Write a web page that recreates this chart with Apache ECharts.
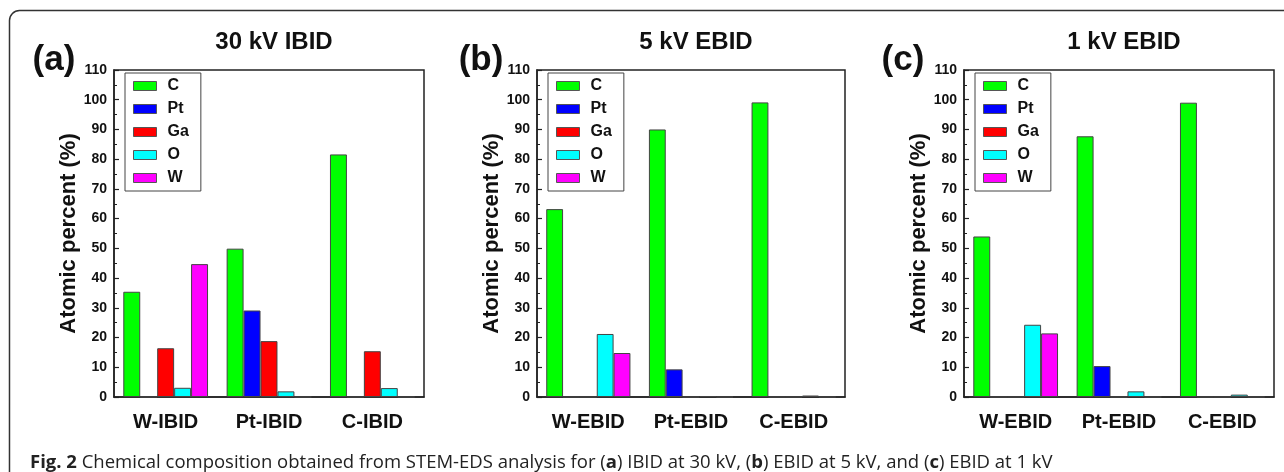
<!DOCTYPE html>
<html>
<head>
<meta charset="utf-8">
<script src="https://cdn.jsdelivr.net/npm/echarts@6/dist/echarts.min.js"></script>
<style>
html,body{margin:0;padding:0;background:#fff;}
#main{width:1284px;height:472px;}
</style>
</head>
<body>
<div id="main"></div>
<script>
// elements shown in every panel
var elements = ['C', 'Pt', 'Ga', 'O', 'W'];
var colors = ['#00ff00', '#0000ff', '#ff0000', '#00ffff', '#ff00ff'];

// panel (a) 30 kV IBID
var catsA = ['W-IBID', 'Pt-IBID', 'C-IBID'];
var cA  = [35.4, 49.9, 81.6];
var ptA = [0, 29.1, 0];
var gaA = [16.4, 18.8, 15.4];
var oA  = [3.1, 1.9, 3.0];
var wA  = [44.7, 0, 0];

// panel (b) 5 kV EBID
var catsB = ['W-EBID', 'Pt-EBID', 'C-EBID'];
var cB  = [63.2, 90.0, 99.1];
var ptB = [0, 9.3, 0];
var gaB = [0, 0, 0];
var oB  = [21.2, 0.3, 0.5];
var wB  = [14.8, 0, 0];

// panel (c) 1 kV EBID
var catsC = ['W-EBID', 'Pt-EBID', 'C-EBID'];
var cC  = [54.0, 87.7, 99.0];
var ptC = [0, 10.4, 0];
var gaC = [0, 0, 0];
var oC  = [24.3, 1.9, 0.8];
var wC  = [21.4, 0, 0];

var yTicks = [0, 10, 20, 30, 40, 50, 60, 70, 80, 90, 100, 110];

var panels = [
    {tag: '(a)', title: '30 kV IBID', cats: catsA, data: [cA, ptA, gaA, oA, wA],
     left: 114, width: 310, tagX: 49, nameGap: 33},
    {tag: '(b)', title: '5 kV EBID', cats: catsB, data: [cB, ptB, gaB, oB, wB],
     left: 537, width: 308, tagX: 476, nameGap: 28},
    {tag: '(c)', title: '1 kV EBID', cats: catsC, data: [cC, ptC, gaC, oC, wC],
     left: 964, width: 310, tagX: 898, nameGap: 28}
];

var grids = [], xAxes = [], yAxes = [], series = [], legends = [], titles = [];
var bold = 'bold';
var fam = 'Liberation Sans, Arial, sans-serif';

panels.forEach(function(p, k){
    grids.push({
        left: p.left, width: p.width, top: 70, height: 327,
        show: true, borderColor: '#222', borderWidth: 1.5, backgroundColor: 'transparent'
    });
    xAxes.push({
        type: 'category', gridIndex: k, data: p.cats,
        axisLine: {lineStyle: {color: '#222', width: 1.5}},
        axisTick: {alignWithLabel: true, length: 5, lineStyle: {color: '#222', width: 1.5}},
        axisLabel: {color: '#111', fontWeight: bold, fontSize: 20, fontFamily: fam, margin: 15}
    });
    yAxes.push({
        type: 'value', gridIndex: k, min: 0, max: 110, interval: 10,
        name: 'Atomic percent (%)', nameLocation: 'middle', nameGap: p.nameGap,
        nameTextStyle: {color: '#111', fontWeight: bold, fontSize: 22, fontFamily: fam},
        axisLine: {show: true, lineStyle: {color: '#222', width: 1.5}},
        axisTick: {show: true, inside: true, length: 5, lineStyle: {color: '#222', width: 1.2}},
        minorTick: {show: true, splitNumber: 2, length: 3, lineStyle: {color: '#222', width: 1}},
        splitLine: {show: false},
        axisLabel: {color: '#111', fontWeight: bold, fontSize: 14, fontFamily: fam, margin: 7,
            formatter: function(v){ return yTicks.indexOf(v) >= 0 ? String(v) : ''; }}
    });
    elements.forEach(function(el, i){
        series.push({
            name: el, type: 'bar', xAxisIndex: k, yAxisIndex: k,
            data: p.data[i], barGap: '0%', barCategoryGap: '18%',
            itemStyle: {color: colors[i], borderColor: '#444', borderWidth: 1},
            animation: false
        });
    });
    legends.push({
        data: elements, orient: 'vertical', left: p.left + 11, top: 73,
        icon: 'rect',
        itemWidth: 23, itemHeight: 9, itemGap: 7,
        padding: [5, 12, 5, 8],
        borderColor: '#444', borderWidth: 1,
        selectedMode: false,
        itemStyle: {borderColor: '#555', borderWidth: 1},
        textStyle: {color: '#111', fontWeight: bold, fontSize: 16, fontFamily: fam, padding: [0, 0, 0, 6]}
    });
    titles.push({
        text: p.title, left: p.left + p.width / 2, top: 25, textAlign: 'center',
        textStyle: {color: '#111', fontWeight: bold, fontSize: 24, fontFamily: fam}
    });
    titles.push({
        text: p.tag, left: p.tagX, top: 38, textAlign: 'center',
        textStyle: {color: '#111', fontWeight: bold, fontSize: 35, fontFamily: fam}
    });
});

titles.push({
    text: '{b|Fig. 2} Chemical composition obtained from STEM-EDS analysis for ({b|a}) IBID at 30 kV, ({b|b}) EBID at 5 kV, and ({b|c}) EBID at 1 kV',
    left: 25, top: 448,
    textStyle: {
        color: '#222', fontSize: 18.5, fontWeight: 'normal', fontFamily: 'Open Sans, sans-serif',
        rich: {b: {fontWeight: bold, fontSize: 18.5, fontFamily: 'Open Sans, sans-serif', color: '#222'}}
    }
});

var chart = echarts.init(document.getElementById('main'));
chart.setOption({
    backgroundColor: '#fff',
    animation: false,
    title: titles,
    legend: legends,
    grid: grids,
    xAxis: xAxes,
    yAxis: yAxes,
    series: series,
    graphic: [{
        type: 'rect', silent: true,
        shape: {x: 9.5, y: 10.5, width: 1400, height: 600, r: 10},
        style: {fill: 'none', stroke: '#333', lineWidth: 1.5}
    }]
});
</script>
</body>
</html>
